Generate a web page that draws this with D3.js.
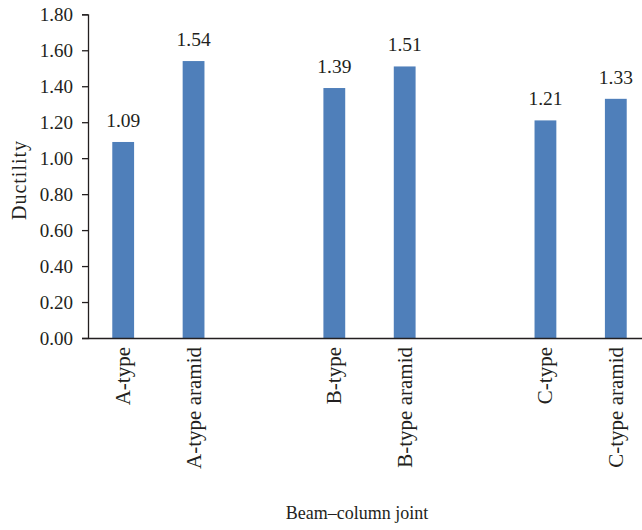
<!DOCTYPE html>
<html>
<head>
<meta charset="utf-8">
<script src="https://cdn.jsdelivr.net/npm/d3@7"></script>
<style>
  html, body { margin: 0; padding: 0; background: #fff; }
  svg text { font-family: "Liberation Serif", "Times New Roman", serif; fill: #231f20; }
</style>
</head>
<body>
<svg id="chart" width="642" height="530"></svg>
<script>
// Ductility of each beam–column joint specimen
const categories = ["A-type", "A-type aramid", "B-type", "B-type aramid", "C-type", "C-type aramid"];
const ductility = [1.09, 1.54, 1.39, 1.51, 1.21, 1.33];
// Slot order along the x axis; the blank slots separate the three joint types
const slots = ["A-type", "A-type aramid", "gap-1", "B-type", "B-type aramid", "gap-2", "C-type", "C-type aramid"];
const yTicks = [0, 0.2, 0.4, 0.6, 0.8, 1.0, 1.2, 1.4, 1.6, 1.8];

(function () {
  const svg = d3.select("#chart");
  const plotLeft = 88, plotRight = 651, plotTop = 14.3, plotBottom = 338;
  const ink = "#231f20";
  const barColor = "#4f7fba";
  const serif = "'Liberation Serif', 'Times New Roman', serif";

  const x = d3.scaleBand().domain(slots).range([plotLeft, plotRight])
    .paddingInner(0.69).paddingOuter(0.345);
  const y = d3.scaleLinear().domain([0, 1.8]).range([plotBottom, plotTop]);

  const data = categories.map((c, i) => ({ name: c, value: ductility[i] }));

  // Bars
  svg.append("g").selectAll("rect").data(data).join("rect")
    .attr("x", d => x(d.name))
    .attr("width", x.bandwidth())
    .attr("y", d => y(d.value))
    .attr("height", d => y(0) - y(d.value))
    .attr("fill", barColor);

  // Value labels above bars
  svg.append("g").selectAll("text").data(data).join("text")
    .attr("x", d => x(d.name) + x.bandwidth() / 2)
    .attr("y", d => y(d.value) - 15)
    .attr("text-anchor", "middle")
    .attr("font-size", 19.5)
    .text(d => d.value.toFixed(2));

  // Y axis
  const yAxis = svg.append("g")
    .attr("transform", `translate(${plotLeft},0)`)
    .call(d3.axisLeft(y).tickValues(yTicks).tickFormat(d3.format(".2f")).tickSize(6).tickPadding(9));
  yAxis.select(".domain").attr("stroke", ink).attr("stroke-width", 1.3);
  yAxis.selectAll(".tick line").attr("stroke", ink).attr("stroke-width", 1.3);
  yAxis.selectAll(".tick text").attr("font-size", 19).attr("fill", ink)
    .style("font-family", serif);

  // X axis
  const xAxis = svg.append("g")
    .attr("transform", `translate(0,${plotBottom})`)
    .call(d3.axisBottom(x).tickValues(categories).tickSize(0).tickSizeOuter(0));
  xAxis.select(".domain").attr("stroke", ink).attr("stroke-width", 1.3);
  xAxis.selectAll(".tick text")
    .attr("font-size", 21).attr("fill", ink)
    .style("font-family", serif)
    .attr("text-anchor", "end")
    .attr("transform", "rotate(-90)")
    .attr("x", -9)
    .attr("y", 0)
    .attr("dy", "0.33em");

  // Axis titles
  svg.append("text")
    .attr("transform", `translate(26,180) rotate(-90)`)
    .attr("text-anchor", "middle")
    .attr("font-size", 20)
    .attr("letter-spacing", 1)
    .text("Ductility");

  svg.append("text")
    .attr("x", 357)
    .attr("y", 519)
    .attr("text-anchor", "middle")
    .attr("font-size", 18)
    .text("Beam–column joint");
})();
</script>
</body>
</html>
